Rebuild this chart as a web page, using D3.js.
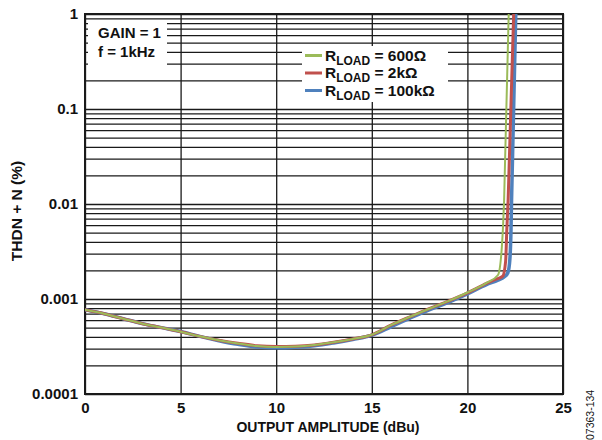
<!DOCTYPE html>
<html>
<head>
<meta charset="utf-8">
<script src="https://cdn.jsdelivr.net/npm/d3@7/dist/d3.min.js"></script>
<style>
  body { margin: 0; background: #fff; }
  svg text { font-family: Arial, "Liberation Sans", sans-serif; fill: #111; }
  .tick-lbl { font-size: 15px; font-weight: bold; }
  .axis-title { font-size: 14px; font-weight: bold; }
  .note { font-size: 15px; font-weight: bold; }
  .grid line { stroke: #1a1a1a; stroke-width: 1.3; }
  .grid path { display: none; }
</style>
</head>
<body>
<svg id="chart" width="602" height="440"></svg>
<script>
//DATA
var xTicks = [0, 5, 10, 15, 20, 25],
    yDecades = [0.0001, 0.001, 0.01, 0.1, 1],
    yTickLabels = ['0.0001', '0.001', '0.01', '0.1', '1'];

var seriesNames = ['600Ω', '2kΩ', '100kΩ'],
    seriesColors = ['#9bbb59', '#c0504d', '#4f81bd'],
    seriesWidths = [2, 3, 3.5];

//output amplitude (dBu) and THD+N (%) for each load
var amp600 = [0, 1, 2, 3, 4, 5, 6, 7, 8, 9, 10, 11, 12, 13, 14, 15, 16, 17, 18, 19, 20, 21, 21.6, 21.8, 21.87, 21.92, 22.16],
    thd600 = [0.00077, 0.00070, 0.00062, 0.00055, 0.00050, 0.000453, 0.000405, 0.000368, 0.00034, 0.000320, 0.000313, 0.000316, 0.000328, 0.00035, 0.00038, 0.00042, 0.00053, 0.00065, 0.00079, 0.00095, 0.00117, 0.00148, 0.00179, 0.0035, 0.0062, 0.011, 1];

var amp2k = [0, 1, 2, 3, 4, 5, 6, 7, 8, 9, 10, 11, 12, 13, 14, 15, 16, 17, 18, 19, 20, 21, 21.5, 21.85, 22.0, 22.06, 22.13, 22.42],
    thd2k = [0.00077, 0.00070, 0.00062, 0.00055, 0.00050, 0.000452, 0.000404, 0.000368, 0.000342, 0.000322, 0.000316, 0.000318, 0.000328, 0.00035, 0.00038, 0.00042, 0.00053, 0.00065, 0.00079, 0.00095, 0.00116, 0.00146, 0.00162, 0.00174, 0.0025, 0.0053, 0.011, 1];

var amp100k = [0, 1, 2, 3, 4, 5, 6, 7, 8, 9, 10, 11, 12, 13, 14, 15, 16, 17, 18, 19, 20, 21, 21.6, 21.95, 22.12, 22.22, 22.28, 22.31, 22.53],
    thd100k = [0.00077, 0.00070, 0.00062, 0.00055, 0.00050, 0.000455, 0.000404, 0.000364, 0.000333, 0.000312, 0.000306, 0.000310, 0.000322, 0.000345, 0.000375, 0.000415, 0.00051, 0.00063, 0.00077, 0.00092, 0.00113, 0.00142, 0.00158, 0.00172, 0.0019, 0.0026, 0.0053, 0.011, 1];

var ampSeries = [amp600, amp2k, amp100k],
    thdSeries = [thd600, thd2k, thd100k];

//chart parameters
var svg = d3.select('#chart');
var margin = {top: 14, right: 39, bottom: 46, left: 85},
    width = 602 - margin.left - margin.right,
    height = 440 - margin.top - margin.bottom;

//scales
var xScale = d3.scaleLinear().domain([0, 25]).range([0, width]),
    yScale = d3.scaleLog().domain([0.0001, 1]).range([height, 0]);

var canvas = svg.append('g')
    .attr('transform', 'translate(' + margin.left + ',' + margin.top + ')');

//minor grid values 1..9 per decade
var yGrid = [];
yDecades.slice(0, 4).forEach(function(d) {
    for (var i = 1; i < 10; i++) yGrid.push(d * i);
});
yGrid.push(1);

//horizontal gridlines
canvas.append('g')
    .attr('class', 'grid')
    .call(d3.axisLeft(yScale).tickValues(yGrid).tickSize(-width).tickFormat(''));

//vertical gridlines
canvas.append('g')
    .attr('class', 'grid')
    .attr('transform', 'translate(0,' + height + ')')
    .call(d3.axisBottom(xScale).tickValues(xTicks).tickSize(-height).tickFormat(''));

//white boxes behind the notes and legend
canvas.append('rect')
    .attr('x', 3).attr('y', 7).attr('width', 79).attr('height', 52)
    .style('fill', '#fff');
canvas.append('rect')
    .attr('x', 217).attr('y', 32).attr('width', 146).attr('height', 56)
    .style('fill', '#fff');

//frame
canvas.append('rect')
    .attr('width', width).attr('height', height)
    .style('fill', 'none').style('stroke', '#1a1a1a').style('stroke-width', 2);

//clip
svg.append('defs').append('clipPath').attr('id', 'clip')
    .append('rect').attr('width', width).attr('height', height);

//curves
var line = d3.line()
    .x(d => xScale(d[0]))
    .y(d => yScale(d[1]))
    .curve(d3.curveMonotoneX);

var plot = canvas.append('g').attr('clip-path', 'url(#clip)');
[2, 1, 0].forEach(function(s) {
    var pts = ampSeries[s].map((a, i) => [a, thdSeries[s][i]]);
    plot.append('path')
        .datum(pts)
        .attr('d', line)
        .style('fill', 'none')
        .style('stroke', seriesColors[s])
        .style('stroke-width', seriesWidths[s])
        .style('stroke-linejoin', 'round');
});

//x tick labels
var xAxis = canvas.append('g')
    .attr('transform', 'translate(0,' + height + ')')
    .call(d3.axisBottom(xScale).tickValues(xTicks).tickSize(0).tickPadding(8));
xAxis.select('.domain').remove();
xAxis.selectAll('text').attr('class', 'tick-lbl');

//y tick labels
var yAxis = canvas.append('g')
    .call(d3.axisLeft(yScale).tickValues(yDecades).tickSize(0).tickPadding(7)
        .tickFormat((d, i) => yTickLabels[i]));
yAxis.select('.domain').remove();
yAxis.selectAll('text').attr('class', 'tick-lbl');

//axis titles
canvas.append('text')
    .attr('class', 'axis-title')
    .attr('x', width / 2 + 4).attr('y', height + 38)
    .attr('text-anchor', 'middle')
    .text('OUTPUT AMPLITUDE (dBu)');

svg.append('text')
    .attr('class', 'axis-title')
    .style('font-size', '15.5px')
    .attr('transform', 'translate(22,211) rotate(-90)')
    .attr('text-anchor', 'middle')
    .text('THDN + N (%)');

//notes
canvas.append('text').attr('class', 'note').attr('x', 13).attr('y', 24).text('GAIN = 1');
canvas.append('text').attr('class', 'note').attr('x', 13).attr('y', 42.5).text('f = 1kHz');

//legend
var legend = canvas.append('g').attr('transform', 'translate(220,41.5)');
seriesNames.forEach(function(name, i) {
    var row = legend.append('g').attr('transform', 'translate(0,' + (i * 17.5) + ')');
    row.append('line')
        .attr('x1', 0).attr('x2', 17)
        .style('stroke', seriesColors[i])
        .style('stroke-width', 3);
    var t = row.append('text').attr('class', 'note').style('font-size', '15.5px')
        .attr('x', 20).attr('y', 5);
    t.append('tspan').text('R');
    t.append('tspan').attr('dy', 4).style('font-size', '12px').text('LOAD');
    t.append('tspan').attr('dy', -4).text(' = ' + name);
});

//figure code
svg.append('text')
    .attr('transform', 'translate(594,440) rotate(-90)')
    .style('font-size', '10.5px')
    .text('07363-134');
</script>
</body>
</html>
